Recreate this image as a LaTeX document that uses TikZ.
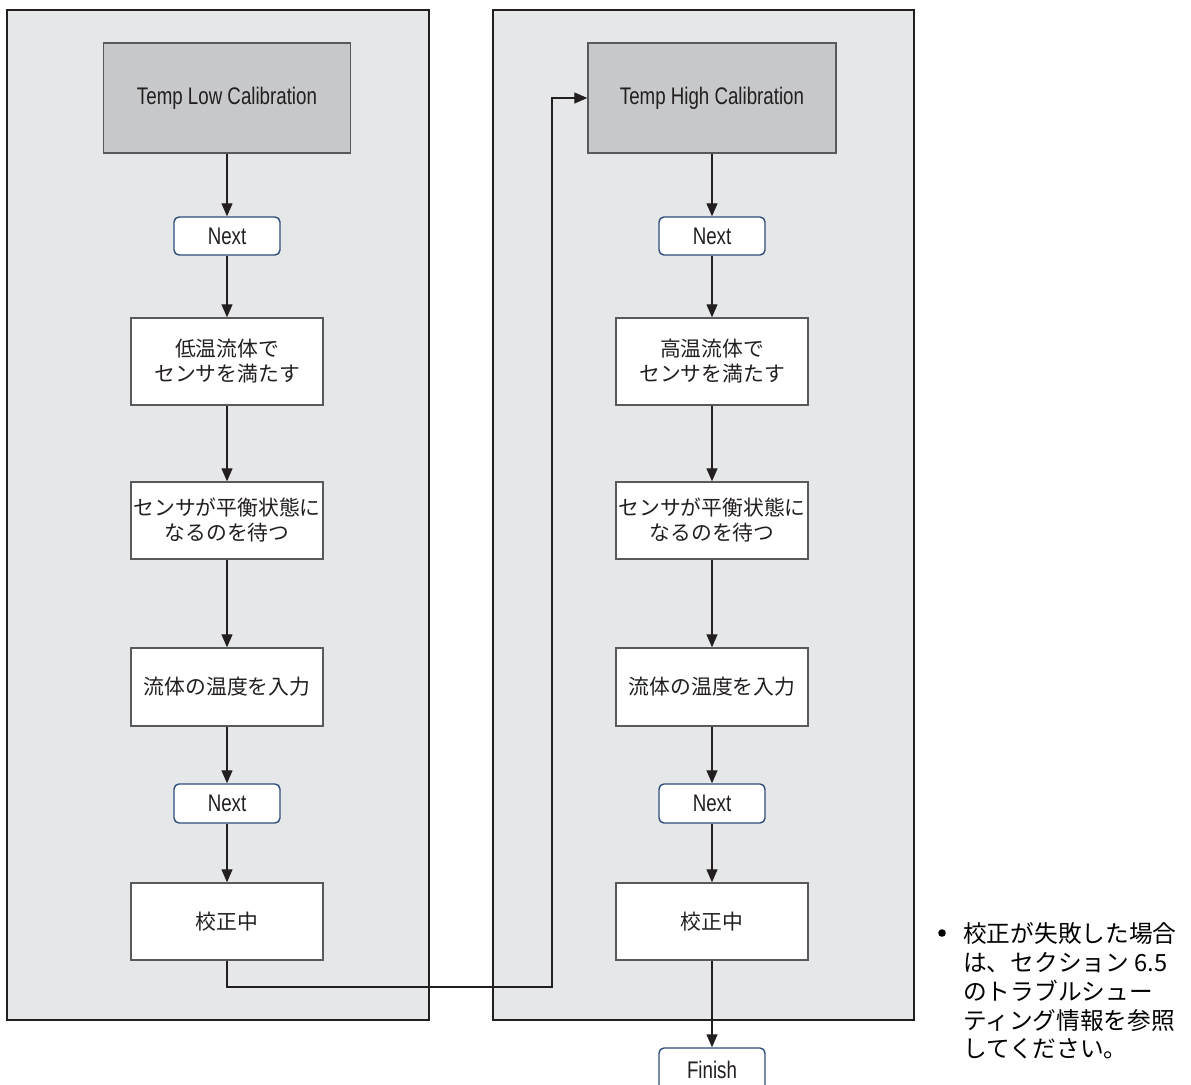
\documentclass[tikz,border=0pt]{standalone}
\usepackage{fontspec}
\usetikzlibrary{arrows.meta}
\newfontfamily\jpfont{Noto Sans CJK JP}
\newfontfamily\condfont[FakeStretch=0.78]{Liberation Sans}
\definecolor{panelgray}{HTML}{E6E7E8}
\definecolor{titlegray}{HTML}{C7C8CA}
\definecolor{boxline}{HTML}{58595B}
\definecolor{nextblue}{HTML}{2E4D7B}
\definecolor{inkc}{HTML}{231F20}
\tikzset{
  panel/.style={draw=inkc, line width=1.1pt, fill=panelgray, inner sep=0pt},
  titlebox/.style={draw=boxline, line width=1.4pt, fill=titlegray, inner sep=0pt,
    minimum width=247pt, minimum height=110pt, text=inkc,
    font=\condfont\fontsize{24}{28}\selectfont},
  nextbox/.style={draw=nextblue, line width=1.4pt, fill=white, rounded corners=5pt, inner sep=0pt,
    minimum width=106pt, minimum height=38pt, text=inkc,
    font=\condfont\fontsize{24}{28}\selectfont},
  stepbox/.style={draw=boxline, line width=1.4pt, fill=white, inner sep=0pt,
    minimum width=192pt, text=inkc, align=center,
    font=\jpfont\fontsize{20.8}{25}\selectfont},
  conn/.style={draw=inkc, line width=1.2pt, -{Triangle[length=13pt,width=11pt]}},
  note/.style={anchor=base west, inner sep=0pt, text=black,
    font=\jpfont\fontsize{23.7}{28}\selectfont}
}
\begin{document}
\begin{tikzpicture}[x=1pt,y=-1pt]
\useasboundingbox (0,0) rectangle (1191,1084);
\begin{scope}
\clip (0,0) rectangle (1191,1084);
% panels
\node[panel, minimum width=422pt, minimum height=1010pt] (pL) at (218,515) {};
\node[panel, minimum width=421pt, minimum height=1010pt] (pR) at (703.5,515) {};
% left column
\node[titlebox] (tL) at (227,98) {Temp Low Calibration};
\node[nextbox] (nL1) at (227,236) {Next};
\node[stepbox, minimum height=87pt] (aL) at (227,361.5) {低温流体で\\センサを満たす};
\node[stepbox, minimum height=77pt] (bL) at (227,520.5) {センサが平衡状態に\\なるのを待つ};
\node[stepbox, minimum height=78pt] (cL) at (227,687) {流体の温度を入力};
\node[nextbox, minimum height=39pt] (nL2) at (227,803.5) {Next};
\node[stepbox, minimum height=77pt] (dL) at (227,921.5) {校正中};
% right column
\node[titlebox, minimum width=248pt] (tR) at (712,98) {Temp High Calibration};
\node[nextbox] (nR1) at (712,236) {Next};
\node[stepbox, minimum height=87pt] (aR) at (712,361.5) {高温流体で\\センサを満たす};
\node[stepbox, minimum height=77pt] (bR) at (712,520.5) {センサが平衡状態に\\なるのを待つ};
\node[stepbox, minimum height=78pt] (cR) at (712,687) {流体の温度を入力};
\node[nextbox, minimum height=39pt] (nR2) at (712,803.5) {Next};
\node[stepbox, minimum height=77pt] (dR) at (712,921.5) {校正中};
\node[nextbox, minimum height=44pt] (fin) at (712,1070) {Finish};
% connectors
\draw[conn] (tL.south) -- (nL1.north);
\draw[conn] (nL1.south) -- (aL.north);
\draw[conn] (aL.south) -- (bL.north);
\draw[conn] (bL.south) -- (cL.north);
\draw[conn] (cL.south) -- (nL2.north);
\draw[conn] (nL2.south) -- (dL.north);
\coordinate (j1) at (227,987);
\coordinate (j2) at (552,987);
\coordinate (j3) at (552,98);
\draw[conn] (dL.south) -- (j1) -- (j2) -- (j3) -- (tR.west);
\draw[conn] (tR.south) -- (nR1.north);
\draw[conn] (nR1.south) -- (aR.north);
\draw[conn] (aR.south) -- (bR.north);
\draw[conn] (bR.south) -- (cR.north);
\draw[conn] (cR.south) -- (nR2.north);
\draw[conn] (nR2.south) -- (dR.north);
\draw[conn] (dR.south) -- (fin.north);
\end{scope}
% note
\fill[black] (942,933) circle (3.8pt) node[inner sep=0pt] (bul) {};
\node[note] (t1) at (963,942) {校正が失敗した場合};
\node[note] (t2) at (963,971) {は、セクション 6.5};
\node[note] (t3) at (963,1000) {のトラブルシュー};
\node[note] (t4) at (963,1029) {ティング情報を参照};
\node[note] (t5) at (963,1057) {してください。};
\end{tikzpicture}
\end{document}
